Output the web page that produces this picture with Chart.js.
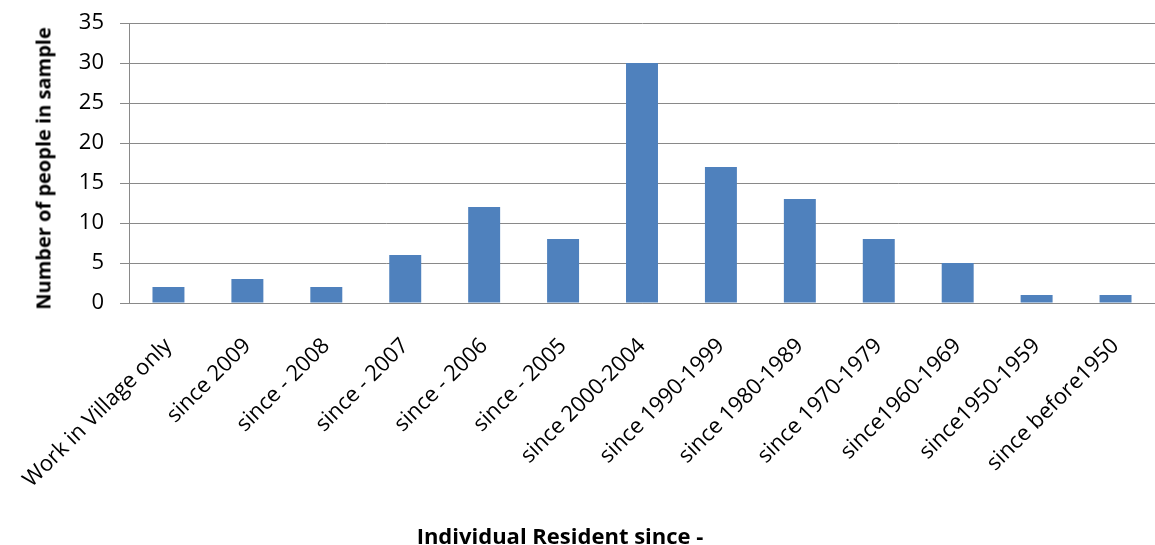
<!DOCTYPE html>
<html>
<head>
<meta charset="utf-8">
<script src="https://cdn.jsdelivr.net/npm/chart.js@4/dist/chart.umd.min.js"></script>
<style>
html,body{margin:0;padding:0;background:#fff;overflow:hidden;}
#wrap{position:relative;width:1155px;height:545px;overflow:hidden;}
canvas{display:block;}
#xtitle{position:absolute;left:0;width:1120px;top:520px;line-height:30px;text-align:center;font:bold 22px 'Open Sans', 'Liberation Sans', sans-serif;color:#000;}
#ytitle{position:absolute;left:43px;top:168px;width:320px;margin-left:-160px;line-height:26px;margin-top:-13px;text-align:center;transform:rotate(-90deg);font:bold 20px 'Open Sans', 'Liberation Sans', sans-serif;color:#000;white-space:nowrap;}
</style>
</head>
<body>
<div id="wrap">
<canvas id="c" width="1155" height="545"></canvas>
<div id="xtitle"></div>
<div id="ytitle"></div>
</div>
<script>
const categories = ["Work in Village only","since 2009","since - 2008","since - 2007","since - 2006","since - 2005","since 2000-2004","since 1990-1999","since 1980-1989","since 1970-1979","since1960-1969","since1950-1959","since before1950"];
const counts = [2,3,2,6,12,8,30,17,13,8,5,1,1];
const yTitle = "Number of people in sample";
const xTitle = "Individual Resident since -";

document.getElementById('xtitle').textContent = xTitle;
document.getElementById('ytitle').textContent = yTitle;

new Chart(document.getElementById('c'), {
  type: 'bar',
  data: {
    labels: categories,
    datasets: [{
      data: counts,
      backgroundColor: '#4F81BD',
      borderWidth: 0,
      barPercentage: 0.405,
      categoryPercentage: 1
    }]
  },
  options: {
    responsive: false,
    animation: false,
    layout: { padding: { top: 23, right: 0, left: 0, bottom: 0 } },
    plugins: { legend: { display: false }, tooltip: { enabled: false } },
    scales: {
      x: {
        grid: { display: false, drawTicks: false },
        border: { color: '#898989', width: 1 },
        ticks: {
          color: '#000',
          font: { family: 'Open Sans', size: 22 },
          maxRotation: 45, minRotation: 45,
          padding: 30,
          autoSkip: false
        },
        afterFit: s => { s.height = 242; s.paddingLeft = 0; s.paddingRight = 0; }
      },
      y: {
        min: 0, max: 35,
        ticks: { stepSize: 5, color: '#000', font: { family: 'Open Sans', size: 22, lineHeight: 1 }, padding: 16 },
        grid: { color: '#898989', lineWidth: 1, tickLength: 9 },
        border: { color: '#898989', width: 1 },
        afterFit: s => { s.width = 129; s.paddingTop = 0; s.paddingBottom = 0; }
      }
    }
  }
});
</script>
</body>
</html>
